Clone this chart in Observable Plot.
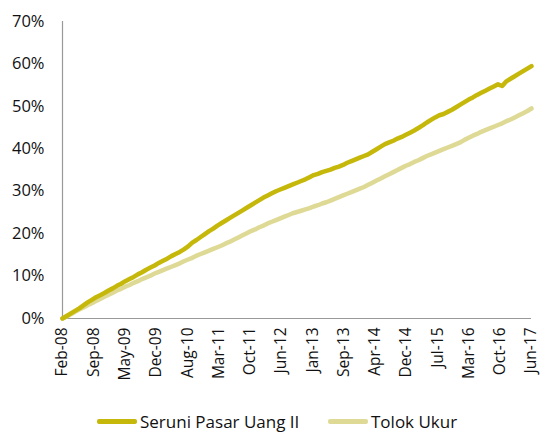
<!DOCTYPE html>
<html><head><meta charset="utf-8">
<script src="https://cdn.jsdelivr.net/npm/d3@7"></script>
<script src="https://cdn.jsdelivr.net/npm/@observablehq/plot@0.6"></script>
<style>
body{margin:0;background:#fff;font-family:"Open Sans",sans-serif;}
#legend{position:relative;height:28px;font-size:17px;color:#111;}
.item{position:absolute;top:5px;display:flex;align-items:center;white-space:nowrap;}
.sw{display:inline-block;width:40px;height:4.5px;border-radius:2px;margin-right:3px;}
</style>
</head><body>
<div id="chart"></div>
<div id="legend"></div>
<script>
// Monthly cumulative returns (%), Feb-08 .. Jun-17
const seriesNames = ["Seruni Pasar Uang II", "Tolok Ukur"];
const seriesColors = ["#C6B80A", "#DEDA95"];
const seruni = [
 0.0,0.6,1.2,1.8,2.4,3.1,3.8,4.4,5.0,5.5,6.0,6.6,7.1,7.7,8.2,8.8,9.3,9.8,10.4,10.9,
 11.5,12.0,12.5,13.1,13.6,14.1,14.7,15.2,15.7,16.3,17.0,17.9,18.5,19.2,19.9,20.6,21.2,21.9,22.5,23.1,
 23.7,24.3,24.9,25.5,26.1,26.7,27.3,27.9,28.5,29.0,29.5,30.0,30.4,30.8,31.2,31.6,32.0,32.4,32.8,33.3,
 33.8,34.1,34.5,34.8,35.1,35.5,35.8,36.2,36.7,37.1,37.5,37.9,38.3,38.7,39.3,39.9,40.5,41.1,41.5,41.9,
 42.4,42.8,43.3,43.8,44.3,44.9,45.5,46.2,46.8,47.4,47.9,48.2,48.7,49.2,49.8,50.4,51.0,51.6,52.1,52.7,
 53.2,53.7,54.2,54.7,55.2,54.8,55.9,56.5,57.1,57.7,58.3,58.9,59.5
];
const tolokUkur = [
 0.0,0.5,1.0,1.6,2.1,2.6,3.1,3.6,4.1,4.6,5.1,5.6,6.1,6.6,7.0,7.5,7.9,8.4,8.8,9.3,
 9.7,10.1,10.6,11.0,11.4,11.8,12.2,12.6,13.0,13.5,13.9,14.3,14.8,15.2,15.6,16.0,16.4,16.8,17.2,17.7,
 18.1,18.6,19.1,19.6,20.1,20.6,21.0,21.5,21.9,22.4,22.8,23.2,23.6,24.0,24.4,24.8,25.1,25.4,25.7,26.0,
 26.4,26.7,27.1,27.4,27.8,28.2,28.6,29.0,29.4,29.8,30.2,30.6,31.0,31.5,32.0,32.5,33.0,33.5,34.0,34.5,
 35.0,35.5,36.0,36.4,36.9,37.3,37.8,38.3,38.7,39.1,39.5,39.9,40.3,40.7,41.1,41.5,42.1,42.6,43.1,43.5,
 44.0,44.4,44.8,45.2,45.6,46.0,46.5,46.9,47.4,47.9,48.4,48.9,49.5
];
const xLabels = ["Feb-08","Sep-08","May-09","Dec-09","Aug-10","Mar-11","Oct-11","Jun-12",
 "Jan-13","Sep-13","Apr-14","Dec-14","Jul-15","Mar-16","Oct-16","Jun-17"];
const yTicks = [0,10,20,30,40,50,60,70];

const nMonths = seruni.length - 1;
const xTickPos = xLabels.map((_, k) => k * nMonths / (xLabels.length - 1));
const rows = [];
[seruni, tolokUkur].forEach((arr, s) => arr.forEach((v, i) => rows.push({i, v, s: seriesNames[s]})));

const chart = Plot.plot({
  width: 541, height: 405,
  marginLeft: 62, marginRight: 10, marginTop: 21, marginBottom: 87,
  style: {fontFamily: "'Open Sans', sans-serif", fontSize: "16px", color: "#111", background: "#fff", overflow: "visible"},
  x: {domain: [0, nMonths], axis: null},
  y: {domain: [0, 70], axis: null},
  marks: [
    Plot.axisY({ticks: yTicks, tickSize: 0, tickPadding: 18, label: null, tickFormat: d => d + "%", fontSize: 16.5}),
    Plot.axisX({ticks: xTickPos, tickSize: 0, tickPadding: 9, tickRotate: -90, label: null, fontSize: 15.5,
      tickFormat: d => xLabels[Math.round(d * (xLabels.length - 1) / nMonths)]}),
    Plot.ruleX([0], {stroke: "#999", strokeWidth: 1.2}),
    Plot.ruleY([0], {stroke: "#999", strokeWidth: 1.2}),
    Plot.lineY(rows.filter(d => d.s === seriesNames[1]), {x: "i", y: "v", stroke: seriesColors[1], strokeWidth: 4.5, strokeLinecap: "round", strokeLinejoin: "round"}),
    Plot.lineY(rows.filter(d => d.s === seriesNames[0]), {x: "i", y: "v", stroke: seriesColors[0], strokeWidth: 4.5, strokeLinecap: "round", strokeLinejoin: "round"})
  ]
});
document.getElementById("chart").appendChild(chart);

const legend = document.getElementById("legend");
const lefts = [97, 328];
seriesNames.forEach((name, k) => {
  const it = document.createElement("div");
  it.className = "item";
  it.style.left = lefts[k] + "px";
  it.innerHTML = `<span class="sw" style="background:${seriesColors[k]}"></span><span>${name}</span>`;
  legend.appendChild(it);
});
</script>
</body></html>
